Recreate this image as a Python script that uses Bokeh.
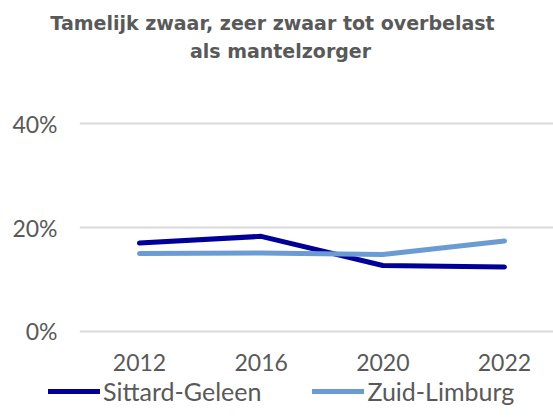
from bokeh.plotting import figure
from bokeh.layouts import column
from bokeh.models import (Range1d, FixedTicker, NumeralTickFormatter, Label,
                          Legend, LegendItem, ColumnDataSource)
from bokeh.embed import file_html
from bokeh.resources import INLINE

years = ["2012", "2016", "2020", "2022"]
sittard = [0.170, 0.183, 0.127, 0.124]
zuid = [0.150, 0.151, 0.148, 0.174]
y_ticks = [0.0, 0.2, 0.4]
title_lines = ["Tamelijk zwaar, zeer zwaar tot overbelast", "als mantelzorger"]
series_names = ["Sittard-Geleen", "Zuid-Limburg"]

GRAY = "#595959"
DARK = "#000099"
LIGHT = "#6A9BD3"
FONT = "Lato"
W = 553


def blank_fig(h):
    f = figure(width=W, height=h, output_backend="svg", toolbar_location=None,
               x_range=Range1d(10, 20), y_range=Range1d(10, 20),
               min_border_left=0, min_border_right=0, min_border_top=0,
               min_border_bottom=0, frame_align=False)
    f.axis.visible = False
    f.grid.visible = False
    f.outline_line_color = None
    return f


xs = list(range(len(years)))
src_s = ColumnDataSource(dict(x=xs, y=sittard))
src_z = ColumnDataSource(dict(x=xs, y=zuid))

# ---- title ----
pt = blank_fig(100)
pt.add_layout(Label(x=272, y=78, x_units="screen", y_units="screen",
                    text=title_lines[0], text_align="center",
                    text_baseline="alphabetic", text_font="DejaVu Sans",
                    text_font_style="bold", text_font_size="19px",
                    text_color=GRAY))
pt.add_layout(Label(x=280, y=50, x_units="screen", y_units="screen",
                    text=title_lines[1], text_align="center",
                    text_baseline="alphabetic", text_font="DejaVu Sans",
                    text_font_style="bold", text_font_size="19px",
                    text_color=GRAY))

# ---- main chart ----
p = figure(width=W, height=276, output_backend="svg", toolbar_location=None,
           x_range=Range1d(-0.493, 3.403), y_range=Range1d(-0.00385, 0.40385),
           min_border_left=79, min_border_right=0, min_border_top=21,
           min_border_bottom=43, frame_align=False)
p.outline_line_color = None

r1 = p.line("x", "y", source=src_s, line_color=DARK, line_width=5,
            line_cap="round", line_join="round")
r2 = p.line("x", "y", source=src_z, line_color=LIGHT, line_width=5,
            line_cap="round", line_join="round")

p.xaxis.ticker = FixedTicker(ticks=xs)
p.xaxis.major_label_overrides = {i: y for i, y in enumerate(years)}
p.xaxis.axis_line_color = None
p.xaxis.major_tick_line_color = None
p.xaxis.minor_tick_line_color = None
p.xaxis.major_label_text_font = FONT
p.xaxis.major_label_text_font_size = "23px"
p.xaxis.major_label_text_color = GRAY
p.xaxis.major_label_standoff = 14

p.yaxis.ticker = FixedTicker(ticks=y_ticks)
p.yaxis.formatter = NumeralTickFormatter(format="0%")
p.yaxis.axis_line_color = None
p.yaxis.major_tick_line_color = None
p.yaxis.minor_tick_line_color = None
p.yaxis.major_label_text_font = FONT
p.yaxis.major_label_text_font_size = "23px"
p.yaxis.major_label_text_color = GRAY
p.yaxis.major_label_standoff = 16

p.xgrid.grid_line_color = None
p.ygrid.grid_line_color = "#D9D9D9"
p.ygrid.grid_line_width = 2

# ---- legend (swatch renderers share the series data, kept off-screen) ----
pl = blank_fig(43)
lr1 = pl.line("x", "y", source=src_s, line_color=DARK, line_width=5,
              line_cap="round")
lr2 = pl.line("x", "y", source=src_z, line_color=LIGHT, line_width=5,
              line_cap="round")
legend = Legend(items=[LegendItem(label=series_names[0], renderers=[lr1]),
                       LegendItem(label=series_names[1], renderers=[lr2])],
                orientation="horizontal", location=(48, 13),
                glyph_width=52, label_standoff=3, spacing=51,
                label_text_font=FONT, label_text_font_size="25px",
                label_text_color=GRAY, label_height=26, glyph_height=26,
                padding=0, margin=0, border_line_color=None,
                background_fill_alpha=0)
pl.add_layout(legend, "center")

layout = column(pt, p, pl, spacing=0)
open("out.html", "w").write(file_html(layout, INLINE))
